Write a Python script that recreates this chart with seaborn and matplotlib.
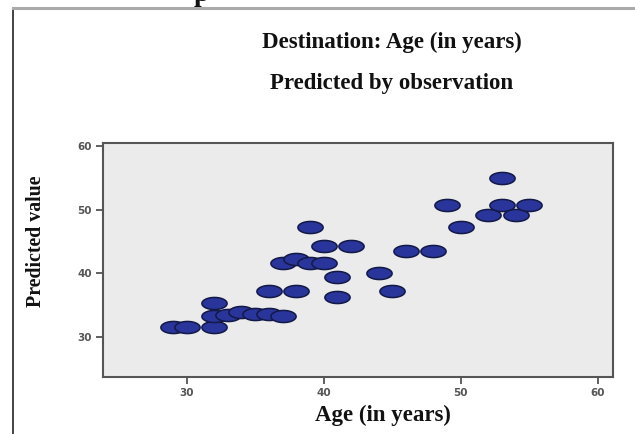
import numpy as np
import pandas as pd
import matplotlib
matplotlib.use("Agg")
import matplotlib.pyplot as plt
from matplotlib.path import Path
from matplotlib.lines import Line2D
import seaborn as sns

# Data
age = [29, 30, 32, 32, 32, 33, 34, 35, 36, 37, 36, 38, 37, 38, 39, 40,
       39, 40, 41, 41, 42, 44, 45, 46, 48, 49, 50, 52, 53, 53, 54, 55]
predicted = [31.6, 31.6, 31.6, 35.3, 33.3, 33.5, 33.9, 33.6, 33.6, 33.3,
             37.3, 37.2, 41.7, 42.3, 41.7, 41.7, 47.2, 44.3, 39.5, 36.3,
             44.3, 40.1, 37.3, 43.5, 43.5, 50.8, 47.2, 49.2, 55.0, 50.8,
             49.2, 50.8]
x_ticks = [30, 40, 50, 60]
y_ticks = [30, 40, 50, 60]

df = pd.DataFrame({"Age (in years)": age, "Predicted value": predicted})

fig = plt.figure(figsize=(6.35, 4.34), dpi=100)
fig.patch.set_facecolor("white")
ax = fig.add_axes([103 / 635, 1 - 377 / 434, 510 / 635, 234.3 / 434])
ax.set_facecolor("#ebebeb")

# ellipse-shaped marker
theta = np.linspace(0, 2 * np.pi, 60)
verts = np.column_stack([np.cos(theta), 0.48 * np.sin(theta)])
ellipse = Path(verts, closed=True)

sns.scatterplot(data=df, x="Age (in years)", y="Predicted value", ax=ax,
                marker=ellipse, s=330, color="#29359a", edgecolor="#131947",
                linewidth=1.1, zorder=3)

ax.set_xlim(23.9, 61.1)
ax.set_ylim(23.75, 60.5)
ax.set_xticks(x_ticks)
ax.set_yticks(y_ticks)
ax.tick_params(axis="both", direction="out", length=5, width=1.2,
               color="#444444", labelsize=7.5, labelcolor="#555555", pad=3)
for lab in ax.get_xticklabels() + ax.get_yticklabels():
    lab.set_fontweight("bold")
for sp in ax.spines.values():
    sp.set_color("#555555")
    sp.set_linewidth(1.5)

ax.set_xlabel("Age (in years)", family="Liberation Serif", fontweight="bold",
              fontsize=16.5, color="#111111")
ax.set_ylabel("Predicted value", family="Liberation Serif", fontweight="bold",
              fontsize=14.3, color="#111111")
ax.xaxis.set_label_coords((383 - 103) / 510, (377 - 415) / 234.3)
ax.yaxis.set_label_coords((36 - 103) / 510, (377 - 241) / 234.3)
ax.xaxis.label.set_va("center")
ax.yaxis.label.set_va("center")

fig.text(392 / 635, 1 - 42 / 434, "Destination: Age (in years)",
         family="Liberation Serif", fontweight="bold", fontsize=16.5,
         ha="center", va="center", color="#111111")
fig.text(392 / 635, 1 - 83 / 434, "Predicted by observation",
         family="Liberation Serif", fontweight="bold", fontsize=16.5,
         ha="center", va="center", color="#111111")

# glyph of the text above the cropped chart (only its descender shows)
fig.text(201 / 635, 1 - 1 / 434, "p", family="Liberation Serif",
         fontweight="bold", fontsize=20, ha="center", va="baseline",
         color="#111111")

# outer frame lines
fig.add_artist(Line2D([13 / 635, 13 / 635], [0, 1 - 8 / 434],
                      transform=fig.transFigure, color="#222222", lw=1.2))
fig.add_artist(Line2D([13 / 635, 1], [1 - 8 / 434, 1 - 8 / 434],
                      transform=fig.transFigure, color="#aaaaaa", lw=2.2))

fig.savefig("out.png", dpi=100)
